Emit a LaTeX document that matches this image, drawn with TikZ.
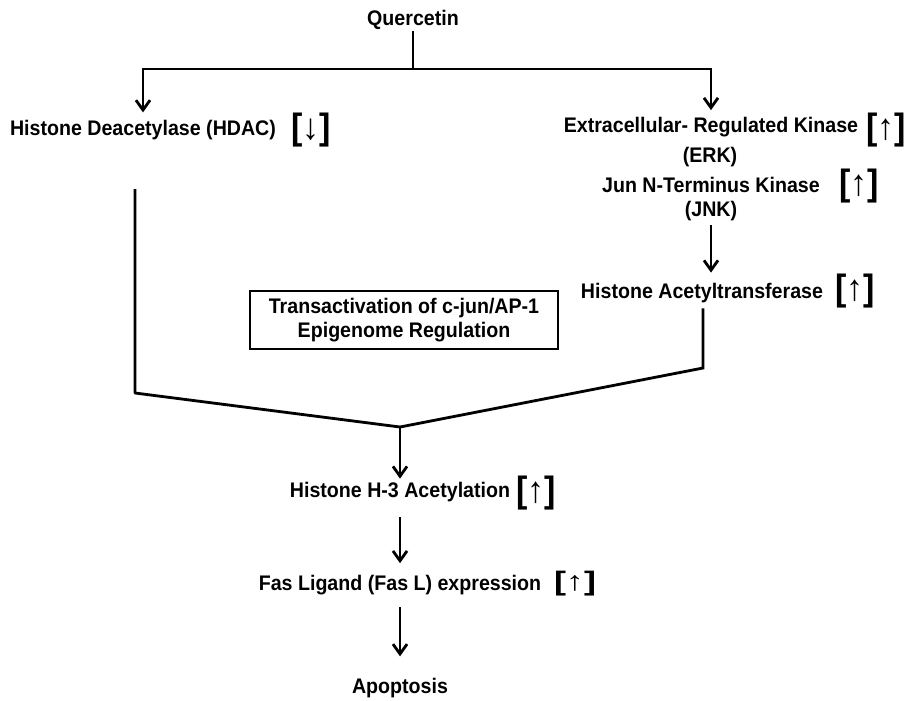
\documentclass[tikz,border=0pt]{standalone}
\usepackage{fontspec}
\setmainfont[FakeStretch=0.93]{Liberation Sans}
\usetikzlibrary{arrows.meta}
\tikzset{
  lbl/.style={font=\fontsize{15}{17}\selectfont\bfseries, inner sep=1pt},
  trend/.style={font=\fontsize{26}{26}\selectfont\bfseries, inner sep=0pt, anchor=base},
  line/.style={line width=2pt},
  flow/.style={line width=2pt, -{Straight Barb[length=7pt,width=10pt,line width=2pt]}},
  boxed/.style={draw, line width=1.4pt, align=center, minimum width=7.7cm, minimum height=1.45cm}
}
\begin{document}
\begin{tikzpicture}[x=0.025cm,y=-0.025cm]
  \useasboundingbox (0,0) rectangle (908,700);
  % upper part
  \node[lbl, anchor=base] (quer) at (413,25) {Quercetin};
  \coordinate (split) at (413,69);
  \node[lbl, anchor=base] (hdac) at (143,135) {Histone Deacetylase (HDAC)};
  \node[trend] (hdacT) at (311,139) {[↓]};
  \node[lbl, anchor=base] (erk) at (711,132) {Extracellular- Regulated Kinase};
  \node[lbl, anchor=base] (erkab) at (710,162) {(ERK)};
  \node[trend] (erkT) at (886,139) {[↑]};
  \node[lbl, anchor=base] (jnk) at (711,192) {Jun N-Terminus Kinase};
  \node[lbl, anchor=base] (jnkab) at (711,216) {(JNK)};
  \node[trend] (jnkT) at (859,195) {[↑]};
  \node[lbl, anchor=base] (hat) at (702,298) {Histone Acetyltransferase};
  \node[trend] (hatT) at (855,300) {[↑]};
  \node[boxed, lbl] (trans) at (404,320) {Transactivation of c-jun/AP-1\\Epigenome Regulation};
  % lower part
  \node[lbl, anchor=base] (h3) at (400,497) {Histone H-3 Acetylation};
  \node[trend] (h3T) at (536,502) {[↑]};
  \node[lbl, anchor=base] (fas) at (400,590) {Fas Ligand (Fas L) expression};
  \node[trend, font=\fontsize{19}{19}\selectfont\bfseries, xscale=1.45] (fasT) at (575,590) {[↑]};
  \node[lbl, anchor=base] (apop) at (400,693) {Apoptosis};
  % connectors
  \coordinate (ltop) at (135,189);
  \coordinate (lbend) at (135,393);
  \coordinate (rbend) at (703,368);
  \coordinate (merge) at (400,427);
  \draw[line] (quer) -- (split);
  \draw[flow, shorten >=4pt] (split) -| (hdac);
  \draw[flow, shorten >=3.5pt] (split) -| (erk);
  \draw[flow, shorten <=2pt, shorten >=6pt] (jnkab.south) -- (jnkab.south |- hat.north);
  \draw[line, shorten <=3pt] (hat.south -| rbend) -- (rbend) -- (merge);
  \draw[line, line join=round] (ltop) -- (lbend) -- (merge);
  \draw[flow, shorten >=1pt] (merge) -- (h3);
  \draw[flow, shorten <=10pt, shorten >=7pt] (h3) -- (fas);
  \draw[flow, shorten <=8pt, shorten >=14pt] (fas) -- (apop);
\end{tikzpicture}
\end{document}
